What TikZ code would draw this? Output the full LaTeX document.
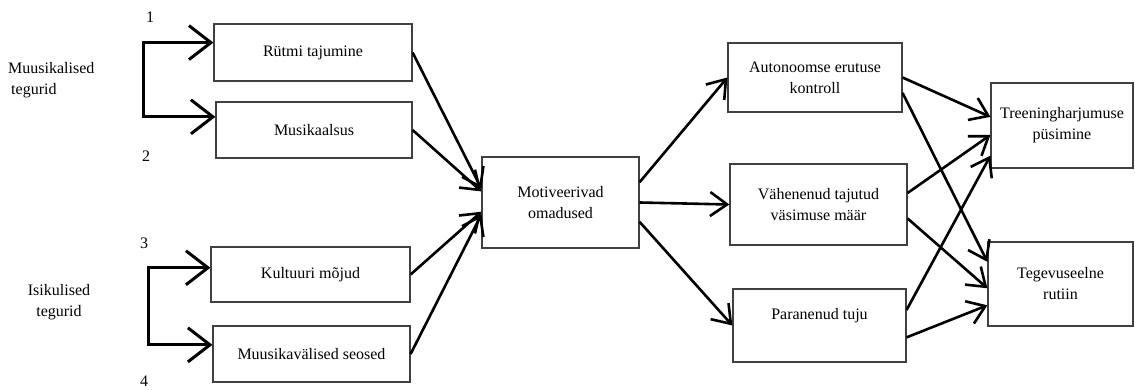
\documentclass[tikz,border=0pt]{standalone}
\usepackage{fontspec}
\setmainfont{Liberation Serif}
\usetikzlibrary{arrows.meta,calc}
\begin{document}
\begin{tikzpicture}[x=1pt,y=-1pt,
  box/.style={draw=black!75,line width=1.2pt,minimum width=#1,inner sep=2pt,align=center,font=\fontsize{16}{21}\selectfont},
  lbl/.style={font=\fontsize{16}{21}\selectfont,inner sep=0pt},
  conn/.style={line width=2.6pt,-{Straight Barb[length=17pt,width=24pt,line width=2.6pt]}},
  brk/.style={line width=3pt,{Straight Barb[length=22pt,width=34pt,line width=3pt]}-{Straight Barb[length=22pt,width=34pt,line width=3pt]}}]
\useasboundingbox (0,0) rectangle (1135,390);
% boxes
\node[box=198pt,minimum height=57pt] (r1) at (313,52.5) {Rütmi tajumine};
\node[box=196pt,minimum height=56pt] (r2) at (314,130) {Musikaalsus};
\node[box=199pt,minimum height=55pt] (k1) at (310.5,274.5) {Kultuuri mõjud};
\node[box=197pt,minimum height=56pt] (k2) at (311.5,354) {Muusikavälised seosed};
\node[box=157pt,minimum height=91pt] (m) at (560.5,202.5) {Motiveerivad\\omadused};
\node[box=174pt,minimum height=69pt] (a) at (815,77.5) {Autonoomse erutuse\\kontroll};
\node[box=177pt,minimum height=81pt] (v) at (818.5,204.5) {Vähenenud tajutud\\väsimuse määr};
\node[box=173pt,minimum height=73pt] (p) at (819.5,325.5) {Paranenud tuju\\[-4pt]\strut};
\node[box=142pt,minimum height=85pt] (t) at (1062,125.5) {Treeningharjumuse\\püsimine};
\node[box=145pt,minimum height=84pt] (g) at (1060.5,284) {Tegevuseelne\\rutiin};
% labels
\node[lbl,align=left,anchor=west] (mt) at (8,80) {Muusikalised\\\hspace*{3pt}tegurid};
\node[lbl,align=center] (it) at (59,302) {Isikulised\\tegurid};
\node[lbl] (n1) at (150,17) {1};
\node[lbl] (n2) at (146,156) {2};
\node[lbl] (n3) at (144,243) {3};
\node[lbl] (n4) at (144,381) {4};
% brackets
\coordinate (b1) at (143,0);
\coordinate (b2) at (148,0);
\coordinate (r1in) at ($(r1.north west)!0.33!(r1.south west)$);
\coordinate (r2in) at ($(r2.north west)!0.27!(r2.south west)$);
\coordinate (k1in) at ($(k1.north west)!0.38!(k1.south west)$);
\coordinate (k2in) at ($(k2.north west)!0.34!(k2.south west)$);
\draw[brk] (r1in) -- (b1 |- r1in) -- (b1 |- r2in) -- (r2in);
\draw[brk] (k1in) -- (b2 |- k1in) -- (b2 |- k2in) -- (k2in);
% into m
\draw[conn] (r1.east) -- ($(m.north west)!0.35!(m.south west)$);
\draw[conn] (r2.east) -- ($(m.north west)!0.38!(m.south west)$);
\draw[conn] (k1.east) -- ($(m.north west)!0.60!(m.south west)$);
\draw[conn] (k2.east) -- ($(m.north west)!0.63!(m.south west)$);
% out of m
\draw[conn] ($(m.north east)!0.28!(m.south east)$) -- (a.west);
\draw[conn] (m.east) -- (v.west);
\draw[conn] ($(m.north east)!0.71!(m.south east)$) -- (p.west);
% to outcomes
\draw[conn] (a.east) -- ($(t.north west)!0.40!(t.south west)$);
\draw[conn] ($(a.north east)!0.72!(a.south east)$) -- ($(g.north west)!0.24!(g.south west)$);
\draw[conn] ($(v.north east)!0.36!(v.south east)$) -- ($(t.north west)!0.61!(t.south west)$);
\draw[conn] ($(v.north east)!0.67!(v.south east)$) -- ($(g.north west)!0.55!(g.south west)$);
\draw[conn] ($(p.north east)!0.29!(p.south east)$) -- ($(t.north west)!0.85!(t.south west)$);
\draw[conn] ($(p.north east)!0.66!(p.south east)$) -- ($(g.north west)!0.75!(g.south west)$);
\end{tikzpicture}
\end{document}
